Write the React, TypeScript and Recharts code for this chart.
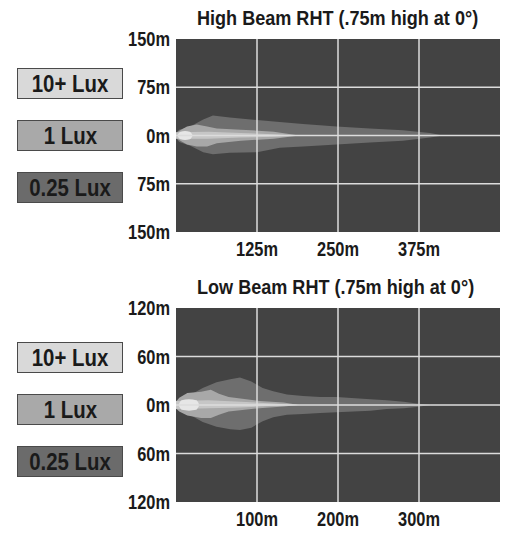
import { Area, CartesianGrid, ComposedChart, ReferenceLine, XAxis, YAxis } from "recharts";

const FONT = "'Liberation Sans', Arial, sans-serif";
const NARROW = 0.82;

const legendLabels = ["10+ Lux", "1 Lux", "0.25 Lux"];
const legendColors = ["#d9d9d9", "#a9a9a9", "#6b6b6b"];

// high beam, distance ahead (m) and lateral edges (m, + = left of vehicle)
const highTitle = "High Beam RHT (.75m high at 0°)";
const highXTicks = [125, 250, 375];
const highYTicks = [-150, -75, 0, 75, 150];

const highOuterX = [0, 5, 22, 42, 57, 83, 125, 160, 196, 248, 299, 350, 392, 412];
const highOuterTop = [4, 9, 14, 25, 31, 28, 24, 21, 18, 14, 11, 8, 4, 0];
const highOuterBottom = [-4, -10, -16, -26, -29, -27, -26, -19, -17, -14, -11, -8, -3, 0];

const highMidX = [0, 8, 17, 32, 48, 63, 100, 151, 190];
const highMidTop = [4, 9, 14, 17, 14, 11, 9, 6, 0];
const highMidBottom = [-4, -9, -14, -17, -17, -12, -8, -5, 0];

const highInnerX = [0, 50, 100, 150, 188];
const highInnerTop = [5, 6, 4, 2, 0];
const highInnerBottom = [-5, -5, -3, -2, 0];

const highSpotX = [3, 7, 14, 21, 25];
const highSpotTop = [2, 6, 7, 6, 2];
const highSpotBottom = [-2, -6, -7, -6, -2];

// low beam
const lowTitle = "Low Beam RHT (.75m high at 0°)";
const lowXTicks = [100, 200, 300];
const lowYTicks = [-120, -60, 0, 60, 120];

const lowOuterX = [0, 1, 17, 33, 50, 67, 79, 93, 107, 120, 137, 157, 178, 198, 240, 260, 281, 297, 314];
const lowOuterTop = [3, 6, 12, 21, 28, 32, 34, 29, 21, 17, 13, 11, 10, 10, 7, 6, 4, 2, 0];
const lowOuterBottom = [-3, -6, -12, -21, -27, -30, -31, -28, -20, -15, -12, -11, -10, -9, -7, -5, -4, -2.5, 0];

const lowMidX = [0, 4, 14, 31, 43, 53, 65, 103, 133, 152];
const lowMidTop = [4, 9, 15, 16.5, 19, 14, 10, 5, 3, 0];
const lowMidBottom = [-4, -8, -13, -16, -16, -12, -8, -4, -2, 0];

const lowInnerX = [0, 40, 80, 120, 150];
const lowInnerTop = [5, 6, 4, 2, 0];
const lowInnerBottom = [-5, -4, -3, -1, 0];

const lowSpotX = [4, 7, 16, 25, 28];
const lowSpotTop = [2, 6, 7, 6, 2];
const lowSpotBottom = [-2, -6, -7, -6, -2];

const toRange = (xs: number[], top: number[], bottom: number[]) =>
  xs.map((x, i) => ({ x, y: [bottom[i], top[i]] }));

type Layer = { data: { x: number; y: number[] }[]; fill: string; type: "linear" | "monotone" };

// condensed bold tick, Arial Narrow look
function NarrowTick(props: any) {
  const { x, y, payload, textAnchor, orient } = props;
  const label = `${Math.abs(Number(payload.value))}m`;
  const dy = orient === "bottom" ? 16 : 7;
  return (
    <text
      transform={`translate(${x},${y}) scale(${NARROW},1)`}
      x={0}
      y={dy}
      textAnchor={textAnchor}
      fill="#1a1a1a"
      fontFamily={FONT}
      fontWeight={700}
      fontSize={20}
    >
      {label}
    </text>
  );
}

type BeamPanelProps = {
  title: string;
  top: number;
  height: number;
  marginTop: number;
  axisHeight: number;
  xMax: number;
  yMax: number;
  xTicks: number[];
  yTicks: number[];
  layers: Layer[];
  legendTops: number[];
};

function BeamPanel(p: BeamPanelProps) {
  return (
    <div style={{ position: "absolute", left: 0, top: p.top, width: 526, height: p.height }}>
      <ComposedChart
        width={526}
        height={p.height}
        margin={{ top: p.marginTop, right: 26, bottom: 0, left: 0 }}
      >
        <CartesianGrid fill="#434343" stroke="none" />
        <XAxis
          type="number"
          dataKey="x"
          domain={[0, p.xMax]}
          ticks={p.xTicks}
          allowDataOverflow
          height={p.axisHeight}
          tickLine={false}
          axisLine={false}
          tick={<NarrowTick orient="bottom" />}
        />
        <YAxis
          type="number"
          domain={[-p.yMax, p.yMax]}
          ticks={p.yTicks}
          allowDataOverflow
          width={176}
          tickLine={false}
          axisLine={false}
          tickSize={4}
          tick={<NarrowTick orient="left" />}
        />
        {p.layers.map((l, i) => (
          <Area
            key={i}
            data={l.data}
            dataKey="y"
            type={l.type}
            fill={l.fill}
            fillOpacity={1}
            stroke="none"
            isAnimationActive={false}
            dot={false}
            activeDot={false}
          />
        ))}
        {p.xTicks.map((t) => (
          <ReferenceLine key={`x${t}`} x={t} stroke="#dcdcdc" strokeWidth={1.5} />
        ))}
        {p.yTicks
          .filter((t) => Math.abs(t) !== p.yMax)
          .map((t) => (
            <ReferenceLine key={`y${t}`} y={t} stroke="#dcdcdc" strokeWidth={1.5} />
          ))}
      </ComposedChart>
      <div
        style={{
          position: "absolute",
          left: 197,
          top: p.marginTop - 33,
          fontFamily: FONT,
          fontWeight: 700,
          fontSize: 21,
          lineHeight: "24px",
          color: "#1a1a1a",
          whiteSpace: "nowrap",
          transform: "scaleX(0.86)",
          transformOrigin: "left top",
        }}
      >
        {p.title}
      </div>
      {legendLabels.map((label, i) => (
        <div
          key={label}
          style={{
            position: "absolute",
            left: 17,
            top: p.legendTops[i],
            width: 104,
            height: 29,
            background: legendColors[i],
            border: "1px solid #4a4a4a",
            fontFamily: FONT,
            fontWeight: 700,
            fontSize: 24,
            lineHeight: "29px",
            textAlign: "center",
            color: "#1a1a1a",
            whiteSpace: "nowrap",
          }}
        >
          <span style={{ display: "inline-block", transform: "scaleX(0.85)" }}>{label}</span>
        </div>
      ))}
    </div>
  );
}

export default function App() {
  const highLayers: Layer[] = [
    { data: toRange(highOuterX, highOuterTop, highOuterBottom), fill: "#6e6e6e", type: "linear" },
    { data: toRange(highMidX, highMidTop, highMidBottom), fill: "#a8a8a8", type: "linear" },
    { data: toRange(highInnerX, highInnerTop, highInnerBottom), fill: "#c6c6c6", type: "linear" },
    { data: toRange(highSpotX, highSpotTop, highSpotBottom), fill: "#e6e6e6", type: "monotone" },
  ];
  const lowLayers: Layer[] = [
    { data: toRange(lowOuterX, lowOuterTop, lowOuterBottom), fill: "#6e6e6e", type: "linear" },
    { data: toRange(lowMidX, lowMidTop, lowMidBottom), fill: "#a8a8a8", type: "linear" },
    { data: toRange(lowInnerX, lowInnerTop, lowInnerBottom), fill: "#c6c6c6", type: "linear" },
    { data: toRange(lowSpotX, lowSpotTop, lowSpotBottom), fill: "#e6e6e6", type: "monotone" },
  ];
  return (
    <div style={{ position: "absolute", left: 0, top: 0, width: 526, height: 558, background: "#fff" }}>
      <BeamPanel
        title={highTitle}
        top={0}
        height={270}
        marginTop={39}
        axisHeight={38}
        xMax={500}
        yMax={150}
        xTicks={highXTicks}
        yTicks={highYTicks}
        layers={highLayers}
        legendTops={[68, 120, 172]}
      />
      <BeamPanel
        title={lowTitle}
        top={270}
        height={288}
        marginTop={38}
        axisHeight={56}
        xMax={400}
        yMax={120}
        xTicks={lowXTicks}
        yTicks={lowYTicks}
        layers={lowLayers}
        legendTops={[72, 124, 176]}
      />
    </div>
  );
}
